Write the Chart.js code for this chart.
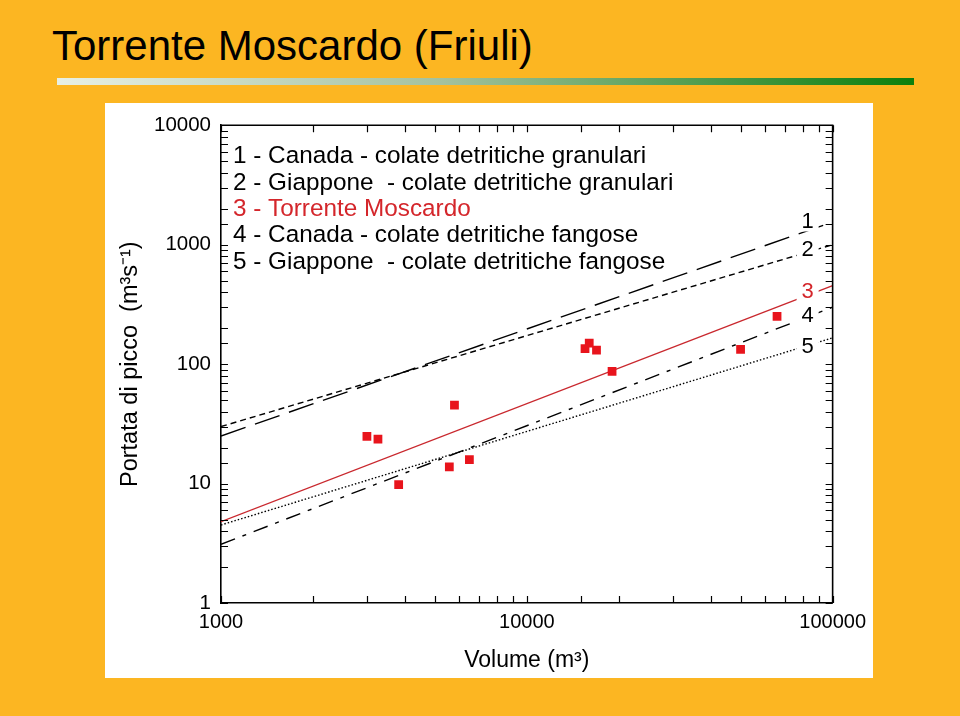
<!DOCTYPE html>
<html lang="it">
<head>
<meta charset="utf-8">
<title>Torrente Moscardo (Friuli)</title>
<script src="https://cdn.jsdelivr.net/npm/chart.js@4.4.1/dist/chart.umd.min.js"></script>
<style>
  html, body { margin: 0; padding: 0; }
  body {
    width: 960px; height: 716px; position: relative; overflow: hidden;
    background: #FCB622;
    font-family: "Liberation Sans", Arial, Helvetica, sans-serif;
  }
  .slide-title {
    position: absolute; left: 52px; top: 25px; margin: 0;
    font-size: 42px; line-height: 42px; font-weight: normal; color: #000;
  }
  .slide-rule {
    position: absolute; left: 57px; top: 78px; width: 857px; height: 7px;
    background: linear-gradient(to right, #E8F0E5, #A3C19E 45%, #0C7F0C);
  }
  .panel {
    position: absolute; left: 105px; top: 103px; width: 768px; height: 575px;
    background: #fff;
  }
  .panel canvas { display: block; }
</style>
</head>
<body>
<h1 class="slide-title">Torrente Moscardo (Friuli)</h1>
<div class="slide-rule"></div>
<div class="panel"><canvas id="moscardoChart" width="768" height="575"></canvas></div>

<script>
(function () {
  "use strict";

  // ── Data ──
  // Torrente Moscardo events: volume (m3) and peak discharge (m3/s)
  var eventVolumes = [3000, 3260, 3810, 5580, 5800, 6490, 15500, 16000, 16900, 19000, 50000, 65800];
  var eventPeaks   = [24.8, 23.6, 9.8, 13.8, 45.3, 15.9, 135, 150, 131, 87, 133, 251];

  // regression lines, given by their values at the two ends of the volume axis
  var lineEnds = [1000, 100000];
  var line1Peaks = [25, 1550];   // Canada - granulari
  var line2Peaks = [30, 1000];   // Giappone - granulari
  var line3Peaks = [4.8, 455];   // Torrente Moscardo
  var line4Peaks = [3.1, 300];   // Canada - fangose
  var line5Peaks = [4.5, 166];   // Giappone - fangose

  var legendLines = [
    "1 - Canada - colate detritiche granulari",
    "2 - Giappone  - colate detritiche granulari",
    "3 - Torrente Moscardo",
    "4 - Canada - colate detritiche fangose",
    "5 - Giappone  - colate detritiche fangose"
  ];
  var endLabels = ["1", "2", "3", "4", "5"];

  var xTickLabels = ["1000", "10000", "100000"];
  var yTickLabels = ["1", "10", "100", "1000", "10000"];

  // ── Styles ──
  var FONT = '"Liberation Sans", Arial, Helvetica, sans-serif';
  var RED_TXT = "#D4262B", RED_LINE = "#C9282E", RED_PT = "#E8141C";
  var BLACK = "#000";

  function pairs(xs, ys) {
    return xs.map(function (x, i) { return { x: x, y: ys[i] }; });
  }

  function lineSet(label, ys, color, dash, width) {
    return {
      label: label,
      data: pairs(lineEnds, ys),
      showLine: true,
      borderColor: color,
      borderWidth: width,
      borderDash: dash,
      pointRadius: 0,
      pointHoverRadius: 0,
      fill: false
    };
  }

  // ── Inward ticks, frame, in-plot legend and end labels ──
  var decorPlugin = {
    id: "decor",
    afterDatasetsDraw: function (chart) {
      var ctx = chart.ctx, a = chart.chartArea;
      var xs = chart.scales.x, ys = chart.scales.y;
      var TL = 7;
      ctx.save();
      ctx.strokeStyle = BLACK;
      ctx.lineWidth = 1.2;
      ctx.beginPath();
      xs.ticks.forEach(function (t) {
        var px = Math.round(xs.getPixelForValue(t.value)) + 0.5;
        ctx.moveTo(px, a.bottom); ctx.lineTo(px, a.bottom - TL);
        ctx.moveTo(px, a.top); ctx.lineTo(px, a.top + TL);
      });
      ys.ticks.forEach(function (t) {
        var py = Math.round(ys.getPixelForValue(t.value)) + 0.5;
        ctx.moveTo(a.left, py); ctx.lineTo(a.left + TL, py);
        ctx.moveTo(a.right, py); ctx.lineTo(a.right - TL, py);
      });
      ctx.stroke();

      // top and right sides of the frame
      ctx.lineWidth = 1.6;
      ctx.beginPath();
      ctx.moveTo(a.left, a.top); ctx.lineTo(a.right, a.top); ctx.lineTo(a.right, a.bottom);
      ctx.stroke();

      // legend block
      ctx.font = "24.3px " + FONT;
      ctx.textAlign = "left";
      ctx.textBaseline = "alphabetic";
      legendLines.forEach(function (txt, i) {
        ctx.fillStyle = i === 2 ? RED_TXT : BLACK;
        ctx.fillText(txt, a.left + 12, a.top + 38 + i * 26.3);
      });

      // labels at the right end of each line (white box breaks the line)
      var labelY = [117.5, 146, 188, 212, 243];
      ctx.font = "22px " + FONT;
      ctx.textAlign = "center";
      ctx.textBaseline = "middle";
      endLabels.forEach(function (txt, i) {
        var cx = a.right - 25, cy = labelY[i];
        ctx.fillStyle = "#fff";
        ctx.fillRect(cx - 11, cy - 11, 22, 22);
        ctx.fillStyle = i === 2 ? RED_TXT : BLACK;
        ctx.fillText(txt, cx, cy + 1);
      });
      ctx.restore();
    }
  };

  var canvas = document.getElementById("moscardoChart");
  new Chart(canvas, {
    type: "scatter",
    data: {
      datasets: [
        {
          label: "Torrente Moscardo",
          data: pairs(eventVolumes, eventPeaks),
          pointStyle: "rect",
          pointRadius: 6.2,
          pointHoverRadius: 6.2,
          backgroundColor: RED_PT,
          borderWidth: 0
        },
        lineSet("1", line1Peaks, BLACK, [26, 10], 1.4),
        lineSet("2", line2Peaks, BLACK, [6, 4], 1.4),
        lineSet("3", line3Peaks, RED_LINE, [], 1.4),
        lineSet("4", line4Peaks, BLACK, [15, 8, 4, 8], 1.4),
        lineSet("5", line5Peaks, BLACK, [1.5, 2], 1.4)
      ]
    },
    options: {
      responsive: false,
      animation: false,
      events: [],
      layout: { padding: { left: 0, top: 20, right: 39, bottom: 0 } },
      plugins: { legend: { display: false }, tooltip: { enabled: false } },
      scales: {
        x: {
          type: "logarithmic",
          min: 1000, max: 100000,
          grid: { display: false, drawTicks: false },
          border: { display: true, color: BLACK, width: 1.6 },
          ticks: {
            autoSkip: false, maxRotation: 0, padding: 7, color: BLACK,
            font: { family: FONT, size: 20 },
            callback: function (v) { var s = String(v); return xTickLabels.indexOf(s) !== -1 ? s : ""; }
          },
          title: {
            display: true, text: "Volume (m³)", color: BLACK,
            font: { family: FONT, size: 23 }, padding: { top: 0, bottom: 4 }
          },
          afterFit: function (s) { s.height = 75; }
        },
        y: {
          type: "logarithmic",
          min: 1, max: 10000,
          grid: { display: false, drawTicks: false },
          border: { display: true, color: BLACK, width: 1.6 },
          ticks: {
            autoSkip: false, padding: 10, color: BLACK,
            font: { family: FONT, size: 20.5 },
            callback: function (v) { var s = String(v); return yTickLabels.indexOf(s) !== -1 ? s : ""; }
          },
          title: {
            display: true, text: "Portata di picco  (m³s⁻¹)", color: BLACK,
            font: { family: FONT, size: 23.5 }, padding: { top: 11, bottom: 0 }
          },
          afterFit: function (s) { s.width = 116; }
        }
      }
    },
    plugins: [decorPlugin]
  });
})();
</script>
</body>
</html>
